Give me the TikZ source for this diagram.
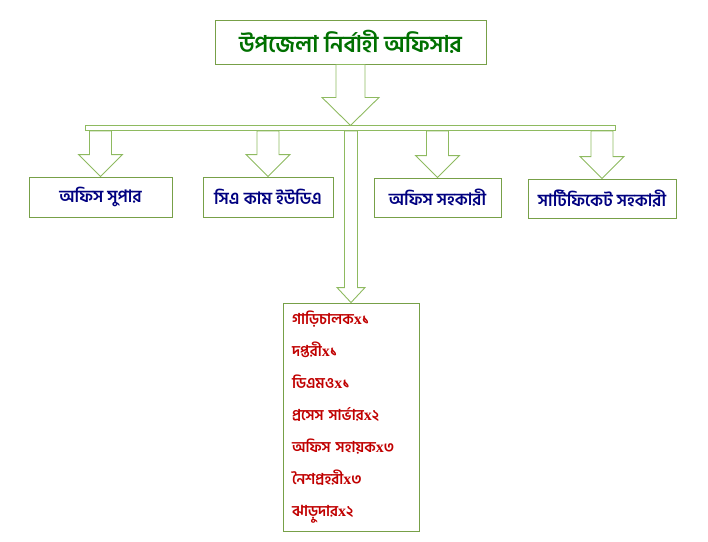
\documentclass[tikz,border=0pt]{standalone}
\usepackage{fontspec}
\newfontfamily\bnfont[Script=Bengali]{Hind Siliguri}
\newfontfamily\latfont{Liberation Serif}
\usetikzlibrary{positioning,calc}
\definecolor{boxgreen}{RGB}{119,160,72}
\definecolor{arrgreen}{RGB}{142,186,96}
\definecolor{titlegreen}{RGB}{0,112,0}
\definecolor{postblue}{RGB}{0,0,128}
\definecolor{staffred}{RGB}{192,0,0}

% multiplication x in the staff list
\newcommand{\xtimes}{{\latfont\fontsize{16}{32}\selectfont x}}

% hollow block arrow: start, tip, shaft half width, head half width, head length
\newcommand{\blockarr}[5]{%
  \draw[arrow] let \p1=(#1), \p2=(#2) in
    (\x2-#3,\y1) -- (\x2-#3,\y2+#5) -- (\x2-#4,\y2+#5) -- (\x2,\y2)
    -- (\x2+#4,\y2+#5) -- (\x2+#3,\y2+#5) -- (\x2+#3,\y1) -- cycle;}

\begin{document}
\begin{tikzpicture}[
    x=1pt, y=-1pt,
    post/.style={rectangle, draw=boxgreen, line width=0.9pt, minimum height=40pt, align=center, text=postblue, font=\bnfont\bfseries\fontsize{17}{20}\selectfont},
    head/.style={post, minimum width=271pt, minimum height=44pt, text=titlegreen, font=\bnfont\bfseries\fontsize{23}{27}\selectfont},
    bar/.style={rectangle, draw=arrgreen, line width=0.9pt, minimum width=530pt, minimum height=4.5pt, inner sep=0pt},
    staff/.style={rectangle, draw=boxgreen, line width=0.9pt, minimum height=228pt, text width=118pt, align=left, text=staffred, font=\bnfont\bfseries\fontsize{15}{32}\selectfont},
    arrow/.style={draw=arrgreen, line width=0.9pt}
]
\useasboundingbox (0,0) rectangle (708,541);

\node[head] (uno) at (350.5,42) {উপজেলা নির্বাহী অফিসার};
\node[bar, below=61pt of uno] (bar) {};

% posts
\node[post, minimum width=143pt] (supar) at (100.5,197) {অফিস সুপার};
\node[post, minimum width=130pt] (cauda) at (268,197) {সিএ কাম ইউডিএ};
\node[post, minimum width=127pt, minimum height=39pt] (sahakari) at (437.5,197.5) {অফিস সহকারী};
\node[post, minimum width=148pt, minimum height=39pt] (certsahakari) at (602,198.5) {সার্টিফিকেট সহকারী};

% staff list
\node[staff, minimum width=136pt] (staff) at (351,417) {গাড়িচালক\xtimes১\\দপ্তরী\xtimes১\\ডিএমও\xtimes১\\প্রসেস সার্ভার\xtimes২\\অফিস সহায়ক\xtimes৩\\নৈশপ্রহরী\xtimes৩\\ঝাড়ুদার\xtimes২};

% arrows
\blockarr{uno.south}{bar.north}{14.5pt}{28.5pt}{28pt}
\foreach \nm in {supar, cauda, sahakari, certsahakari}
  {\blockarr{bar.south -| \nm.north}{\nm.north}{11pt}{22pt}{22pt}}
\blockarr{bar.south}{staff.north}{6.5pt}{14pt}{15pt}

\end{tikzpicture}
\end{document}
